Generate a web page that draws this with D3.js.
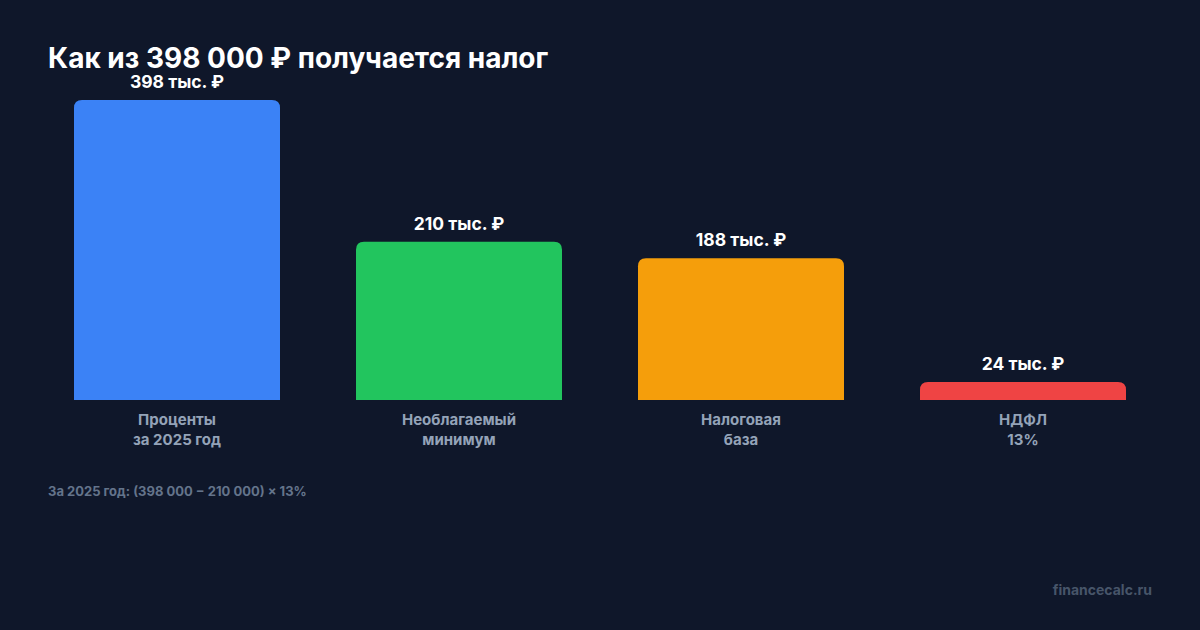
<!DOCTYPE html>
<html><head><meta charset="utf-8">
<script src="https://cdn.jsdelivr.net/npm/d3@7"></script>
<style>
html,body{margin:0;padding:0;background:#0f172a;}
svg{display:block;font-family:Inter,"Noto Sans",sans-serif;}
</style></head>
<body>
<svg id="chart" width="1200" height="630"></svg>
<script>
const categories = [["Проценты","за 2025 год"],["Необлагаемый","минимум"],["Налоговая","база"],["НДФЛ","13%"]];
const values = [398, 210, 188, 24];
const valueLabels = ["398 тыс. ₽","210 тыс. ₽","188 тыс. ₽","24 тыс. ₽"];
const colors = ["#3b82f6","#22c55e","#f59e0b","#ef4444"];
const title = "Как из 398 000 ₽ получается налог";
const footnote = "За 2025 год: (398 000 − 210 000) × 13%";
const watermark = "financecalc.ru";

const svg = d3.select("#chart");
svg.append("rect").attr("width",1200).attr("height",630).attr("fill","#0f172a");

const x = d3.scaleBand().domain(d3.range(values.length)).range([36,1164]).paddingInner(0.2695).paddingOuter(0.13475);
const y = d3.scaleLinear().domain([0,398]).range([400,100]);
const r = 8;

function topRounded(x0, y0, w, h, rr){
  rr = Math.min(rr, h, w/2);
  return `M${x0},${y0+h}V${y0+rr}Q${x0},${y0} ${x0+rr},${y0}H${x0+w-rr}Q${x0+w},${y0} ${x0+w},${y0+rr}V${y0+h}Z`;
}

svg.selectAll("path.bar").data(values).enter().append("path")
  .attr("class","bar")
  .attr("d",(d,i)=>topRounded(x(i), y(d), x.bandwidth(), y(0)-y(d), r))
  .attr("fill",(d,i)=>colors[i]);

svg.selectAll("text.val").data(values).enter().append("text")
  .attr("x",(d,i)=>x(i)+x.bandwidth()/2)
  .attr("y",d=>y(d)-12)
  .attr("text-anchor","middle")
  .attr("fill","#ffffff")
  .attr("font-size",17.5).attr("font-weight",700)
  .text((d,i)=>valueLabels[i]);

const cat = svg.selectAll("text.cat").data(categories).enter().append("text")
  .attr("text-anchor","middle")
  .attr("fill","#94a3b8")
  .attr("font-size",15).attr("font-weight",700);
cat.each(function(d,i){
  const t = d3.select(this);
  d.forEach((line,j)=>{
    t.append("tspan").attr("x",x(i)+x.bandwidth()/2).attr("y",425+j*20).text(line);
  });
});

svg.append("text").attr("x",48).attr("y",68)
  .attr("fill","#ffffff").attr("font-size",28).attr("font-weight",700)
  .text(title);

svg.append("text").attr("x",48).attr("y",496)
  .attr("fill","#64748b").attr("font-size",13).attr("font-weight",700)
  .text(footnote);

svg.append("text").attr("x",1152).attr("y",595).attr("text-anchor","end")
  .attr("fill","#475569").attr("font-size",14).attr("font-weight",700)
  .text(watermark);
</script>
</body></html>
